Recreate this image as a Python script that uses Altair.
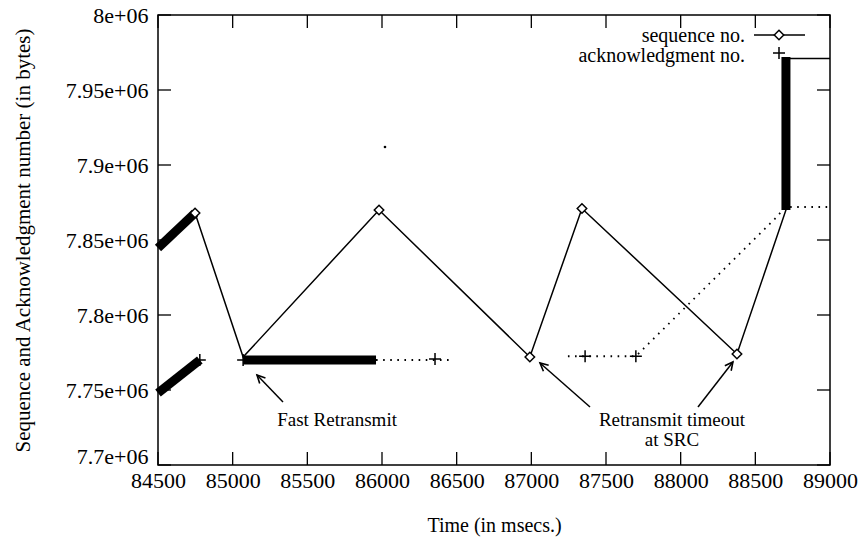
import altair as alt
import pandas as pd

FONT = "Liberation Serif"

# ---------------- data ----------------
x_ticks = [84500, 85000, 85500, 86000, 86500, 87000, 87500, 88000, 88500, 89000]
y_ticks = [7.70e6, 7.75e6, 7.80e6, 7.85e6, 7.90e6, 7.95e6, 8.00e6]

# sequence number: thin solid line
seq_x = [84748, 85070, 85980, 86990, 87339, 88377, 88705, 88705, 89000]
seq_y = [7.868e6, 7.772e6, 7.870e6, 7.772e6, 7.871e6, 7.774e6, 7.870e6, 7.971e6, 7.971e6]
# sequence diamonds
seq_mark_x = [84748, 85980, 86990, 87339, 88377]
seq_mark_y = [7.868e6, 7.870e6, 7.772e6, 7.871e6, 7.774e6]
# sequence bursts (dense points -> thick)
seq_burst_id = [1, 1, 2, 2]
seq_burst_x = [84500, 84748, 88705, 88705]
seq_burst_y = [7.8447e6, 7.868e6, 7.870e6, 7.972e6]

# acknowledgment bursts (dense points -> thick)
ack_burst_id = [1, 1, 2, 2]
ack_burst_x = [84500, 84780, 85070, 85960]
ack_burst_y = [7.748e6, 7.770e6, 7.770e6, 7.770e6]
# acknowledgment sparse (dotted)
ack_dot_id = [1, 1, 2, 2, 2, 2, 2]
ack_dot_x = [85960, 86460, 87245, 87700, 88640, 88700, 89000]
ack_dot_y = [7.770e6, 7.770e6, 7.7725e6, 7.7725e6, 7.865e6, 7.872e6, 7.872e6]
# acknowledgment plus markers
ack_mark_x = [84780, 85070, 86355, 87360, 87700]
ack_mark_y = [7.770e6, 7.770e6, 7.7707e6, 7.7725e6, 7.7725e6]
# isolated stray point
stray_x = [86020]
stray_y = [7.912e6]

# annotations
ann_text = ["Fast Retransmit", "Retransmit timeout", "at SRC"]
ann_x = [85699, 87942, 87942]
ann_y = [7.730e6, 7.730e6, 7.7167e6]
arrow_id = [1, 1, 2, 2, 3, 3]
arrow_x = [85337, 85163, 87393, 87058, 88116, 88350]
arrow_y = [7.742e6, 7.760e6, 7.7387e6, 7.768e6, 7.7387e6, 7.7687e6]
head_x = [85163, 87058, 88350]
head_y = [7.760e6, 7.768e6, 7.7687e6]
head_angle = [316, 311, 38]

legend_labels = ["sequence no.", "acknowledgment no."]

# ---------------- chart ----------------
W, H = 672, 450
xs = alt.Scale(domain=[84500, 89000], nice=False, zero=False)
ys = alt.Scale(domain=[7.70e6, 8.00e6], nice=False, zero=False)

x_axis = alt.Axis(values=x_ticks, format="d", title="Time (in msecs.)",
                  domain=False, ticks=False, grid=False,
                  labelFont=FONT, labelFontSize=22, labelColor="black",
                  labelPadding=5, labelFlush=False,
                  titleFont=FONT, titleFontSize=20, titleFontWeight="normal",
                  titleColor="black", titlePadding=24)
y_axis = alt.Axis(values=y_ticks,
                  labelExpr="format(datum.value/1e6, '.3~g') + 'e+06'",
                  labelOffset={"condition": {"test": "datum.value <= 7700000", "value": -9},
                               "value": 0},
                  title="Sequence and Acknowledgment number (in bytes)",
                  domain=False, ticks=False, grid=False,
                  labelFont=FONT, labelFontSize=22, labelColor="black",
                  labelPadding=10, labelFlush=False,
                  titleFont=FONT, titleFontSize=21, titleFontWeight="normal",
                  titleColor="black", titlePadding=32)

def X(f="x"):
    return alt.X(f"{f}:Q", scale=xs, axis=x_axis, title="Time (in msecs.)")

def Y(f="y"):
    return alt.Y(f"{f}:Q", scale=ys, axis=y_axis,
                 title="Sequence and Acknowledgment number (in bytes)")

xt = pd.DataFrame({"x": x_ticks})
yt = pd.DataFrame({"y": y_ticks})
TL = 13

tick_b = alt.Chart(xt).mark_rule(color="black", strokeWidth=1.3).encode(
    x=X("x"), y=alt.value(H), y2=alt.value(H - TL))
tick_t = alt.Chart(xt).mark_rule(color="black", strokeWidth=1.3).encode(
    x=X(), y=alt.value(0), y2=alt.value(TL))
tick_l = alt.Chart(yt).mark_rule(color="black", strokeWidth=1.3).encode(
    y=Y("y"), x=alt.value(0), x2=alt.value(TL))
tick_r = alt.Chart(yt).mark_rule(color="black", strokeWidth=1.3).encode(
    y=Y(), x=alt.value(W - TL), x2=alt.value(W))

seq_df = pd.DataFrame({"x": seq_x, "y": seq_y, "o": range(len(seq_x))})
seq_line = alt.Chart(seq_df).mark_line(color="black", strokeWidth=1.5).encode(
    x=X(), y=Y(), order="o:Q")

sb_df = pd.DataFrame({"id": seq_burst_id, "x": seq_burst_x, "y": seq_burst_y})
seq_burst = alt.Chart(sb_df).mark_line(color="black", strokeWidth=9, strokeCap="butt").encode(
    x=X(), y=Y(), detail="id:N")

ab_df = pd.DataFrame({"id": ack_burst_id, "x": ack_burst_x, "y": ack_burst_y})
ack_burst = alt.Chart(ab_df).mark_line(color="black", strokeWidth=9, strokeCap="butt").encode(
    x=X(), y=Y(), detail="id:N")

ad_df = pd.DataFrame({"id": ack_dot_id, "x": ack_dot_x, "y": ack_dot_y,
                      "o": range(len(ack_dot_x))})
ack_dots = alt.Chart(ad_df).mark_line(color="black", strokeWidth=1.8,
                                      strokeDash=[1.6, 5.5]).encode(
    x=X(), y=Y(), detail="id:N", order="o:Q")

PLUS = "M-1,0L1,0M0,-1L0,1"
am_df = pd.DataFrame({"x": ack_mark_x, "y": ack_mark_y})
ack_marks = alt.Chart(am_df).mark_point(shape=PLUS, filled=False, color="black",
                                        strokeWidth=1.5, size=144, opacity=1).encode(
    x=X(), y=Y())

sm_df = pd.DataFrame({"x": seq_mark_x, "y": seq_mark_y})
seq_marks = alt.Chart(sm_df).mark_point(shape="diamond", filled=True, fill="white",
                                        stroke="black", strokeWidth=1.5, size=90,
                                        opacity=1).encode(x=X(), y=Y())

st_df = pd.DataFrame({"x": stray_x, "y": stray_y})
stray = alt.Chart(st_df).mark_circle(color="black", size=7, opacity=1).encode(x=X(), y=Y())

ar_df = pd.DataFrame({"id": arrow_id, "x": arrow_x, "y": arrow_y})
arrows = alt.Chart(ar_df).mark_line(color="black", strokeWidth=1.5).encode(
    x=X(), y=Y(), detail="id:N")
hd_df = pd.DataFrame({"x": head_x, "y": head_y, "a": head_angle})
heads = alt.Chart(hd_df).mark_point(shape="M-0.5,1L0,0L0.5,1", filled=False,
                                    color="black", strokeWidth=1.6, size=256,
                                    opacity=1).encode(
    x=X(), y=Y(), angle=alt.Angle("a:Q", scale=None))

an_df = pd.DataFrame({"t": ann_text, "x": ann_x, "y": ann_y})
ann = alt.Chart(an_df).mark_text(font=FONT, fontSize=19, color="black",
                                 align="center", baseline="middle").encode(
    x=X(), y=Y(), text="t:N")

one = pd.DataFrame({"k": [0]})
leg_t1 = alt.Chart(one).mark_text(font=FONT, fontSize=20, color="black",
                                  align="right", baseline="middle").encode(
    x=alt.value(587), y=alt.value(21), text=alt.value(legend_labels[0]))
leg_t2 = alt.Chart(one).mark_text(font=FONT, fontSize=20, color="black",
                                  align="right", baseline="middle").encode(
    x=alt.value(587), y=alt.value(41), text=alt.value(legend_labels[1]))
leg_line = alt.Chart(one).mark_rule(color="black", strokeWidth=1.5).encode(
    x=alt.value(596), x2=alt.value(647), y=alt.value(20))
leg_dia = alt.Chart(one).mark_point(shape="diamond", filled=True, fill="white",
                                    stroke="black", strokeWidth=1.5, size=90,
                                    opacity=1).encode(x=alt.value(621), y=alt.value(20))
leg_plus = alt.Chart(one).mark_point(shape=PLUS, filled=False, color="black",
                                     strokeWidth=1.5, size=144, opacity=1).encode(
    x=alt.value(621), y=alt.value(38))

chart = alt.layer(
    tick_b, tick_t, tick_l, tick_r,
    seq_line, seq_burst, ack_burst, ack_dots, ack_marks, seq_marks, stray,
    arrows, heads, ann,
    leg_t1, leg_t2, leg_line, leg_dia, leg_plus,
).properties(
    width=W, height=H,
    autosize=alt.AutoSizeParams(type="none"),
    padding={"left": 158, "top": 15, "right": 31, "bottom": 86},
    background="white",
).configure_view(stroke="black", strokeWidth=1.5)

chart.save("out.html", embed_options={"renderer": "svg", "actions": False})
